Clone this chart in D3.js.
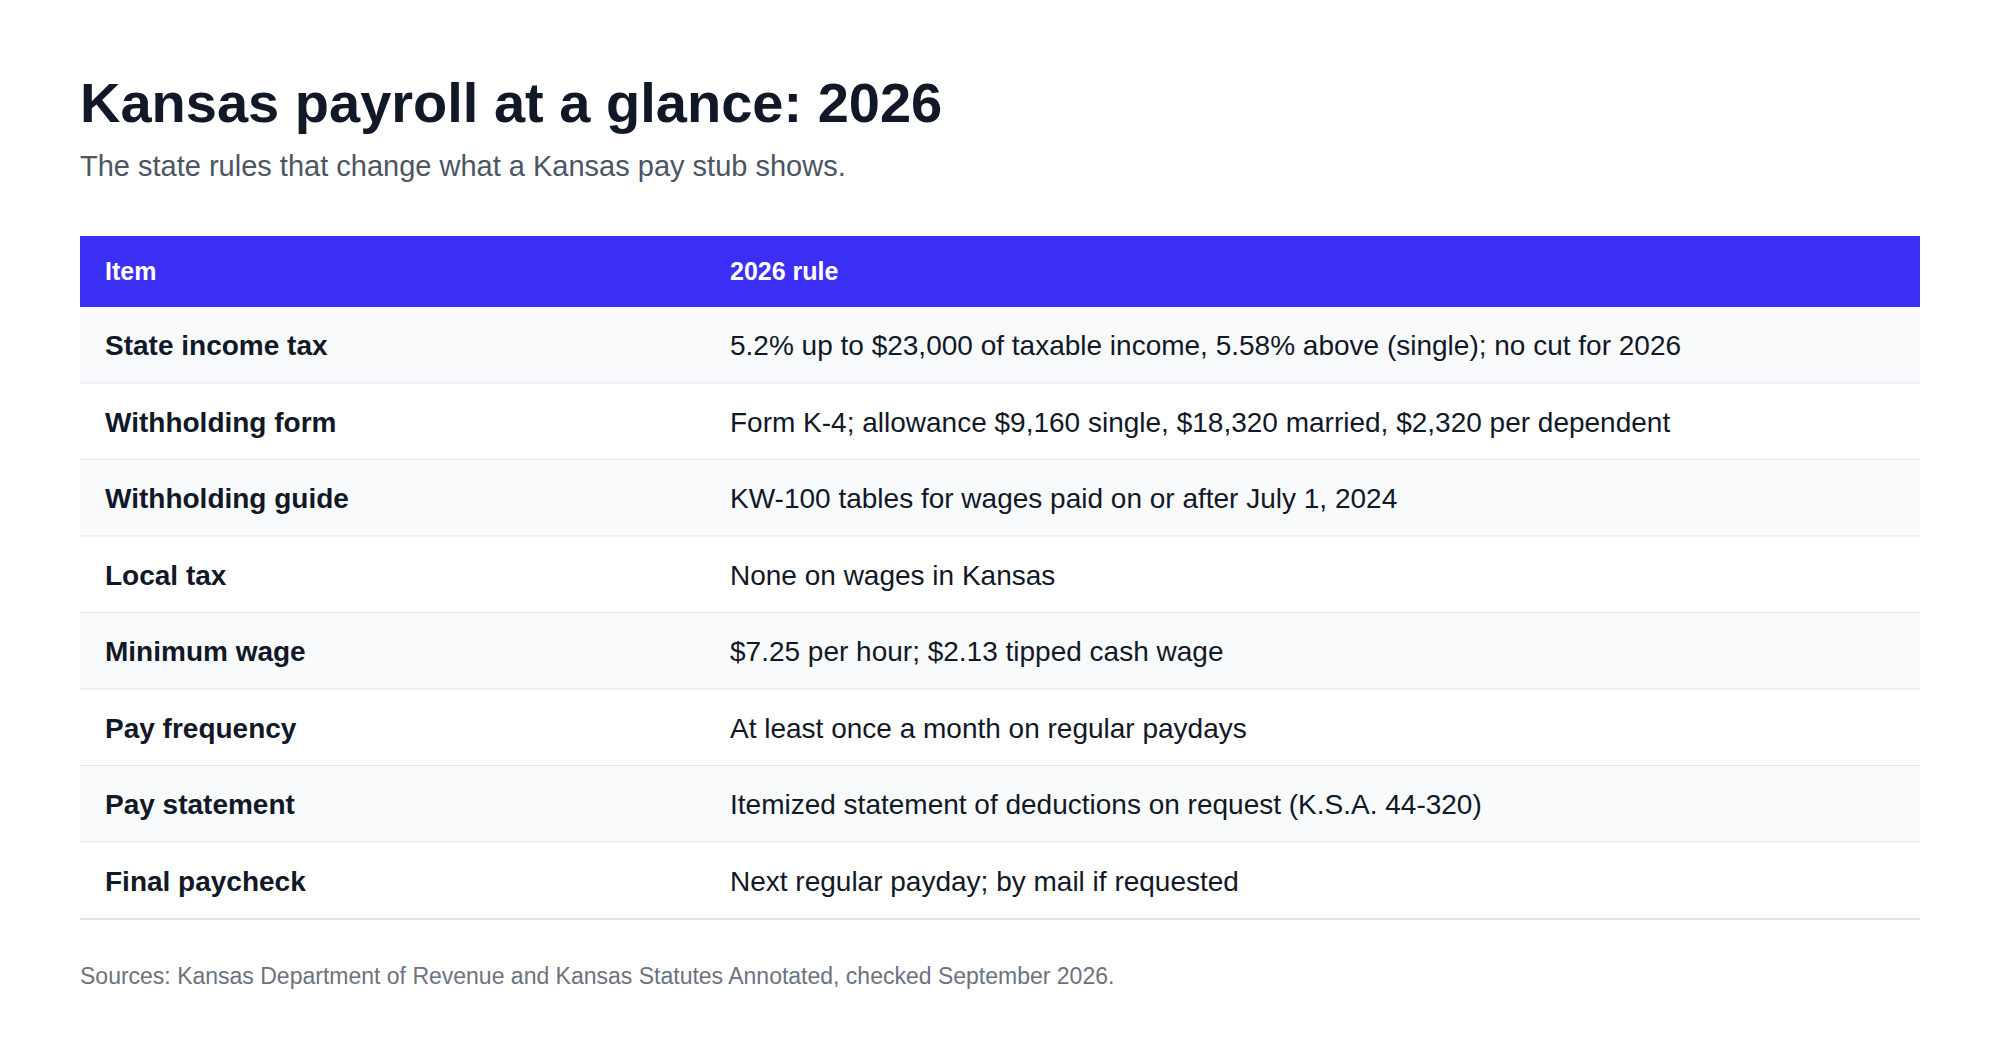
<!DOCTYPE html>
<html>
<head>
<meta charset="utf-8">
<script src="https://cdn.jsdelivr.net/npm/d3@7"></script>
<style>
  body { margin: 0; background: #fff; }
  svg { display: block; font-family: "Liberation Sans", Arial, sans-serif; }
</style>
</head>
<body>
<svg width="2000" height="1062"></svg>
<script>
// table content
const title = 'Kansas payroll at a glance: 2026';
const subtitle = 'The state rules that change what a Kansas pay stub shows.';
const columns = ['Item', '2026 rule'];
const items = ['State income tax', 'Withholding form', 'Withholding guide', 'Local tax',
  'Minimum wage', 'Pay frequency', 'Pay statement', 'Final paycheck'];
const rules = [
  '5.2% up to $23,000 of taxable income, 5.58% above (single); no cut for 2026',
  'Form K-4; allowance $9,160 single, $18,320 married, $2,320 per dependent',
  'KW-100 tables for wages paid on or after July 1, 2024',
  'None on wages in Kansas',
  '$7.25 per hour; $2.13 tipped cash wage',
  'At least once a month on regular paydays',
  'Itemized statement of deductions on request (K.S.A. 44-320)',
  'Next regular payday; by mail if requested'
];
const source = 'Sources: Kansas Department of Revenue and Kansas Statutes Annotated, checked September 2026.';

const svg = d3.select('svg');
const left = 80, right = 1920, headTop = 236, headH = 71, rowH = 76.5, pad = 25;

svg.append('text').attr('x', left).attr('y', 122)
  .attr('font-size', 56).attr('font-weight', 700).attr('fill', '#111827').text(title);
svg.append('text').attr('x', left).attr('y', 176)
  .attr('font-size', 29).attr('fill', '#4b5563').text(subtitle);

// column positions
const x = d3.scaleOrdinal().domain(columns).range([left + pad, 730]);
const y = d3.scaleBand().domain(d3.range(items.length))
  .range([headTop + headH, headTop + headH + rowH * items.length]);

svg.append('rect').attr('x', left).attr('y', headTop)
  .attr('width', right - left).attr('height', headH).attr('fill', '#3b2ff5');
svg.selectAll('text.head').data(columns).join('text')
  .attr('class', 'head')
  .attr('x', (d) => x(d)).attr('y', headTop + headH / 2)
  .attr('dy', '0.35em').attr('font-size', 25).attr('font-weight', 700)
  .attr('fill', '#fff').text((d) => d);

const rows = svg.selectAll('g.row').data(items).join('g')
  .attr('class', 'row')
  .attr('transform', (d, i) => `translate(0,${y(i)})`);

rows.append('rect').attr('x', left).attr('width', right - left)
  .attr('height', y.bandwidth())
  .attr('fill', (d, i) => i % 2 === 0 ? '#f8fafc' : '#fff');
rows.append('line').attr('x1', left).attr('x2', right)
  .attr('y1', y.bandwidth()).attr('y2', y.bandwidth())
  .attr('stroke', '#e2e5ea').attr('stroke-width', 2);
rows.append('text').attr('x', x(columns[0])).attr('y', y.bandwidth() / 2)
  .attr('dy', '0.35em').attr('font-size', 28).attr('font-weight', 700)
  .attr('fill', '#111827').text((d) => d);
rows.append('text').attr('x', x(columns[1])).attr('y', y.bandwidth() / 2)
  .attr('dy', '0.35em').attr('font-size', 28)
  .attr('fill', '#111827').text((d, i) => rules[i]);

svg.append('text').attr('x', left).attr('y', 984)
  .attr('font-size', 23).attr('fill', '#6b7280').text(source);
</script>
</body>
</html>
